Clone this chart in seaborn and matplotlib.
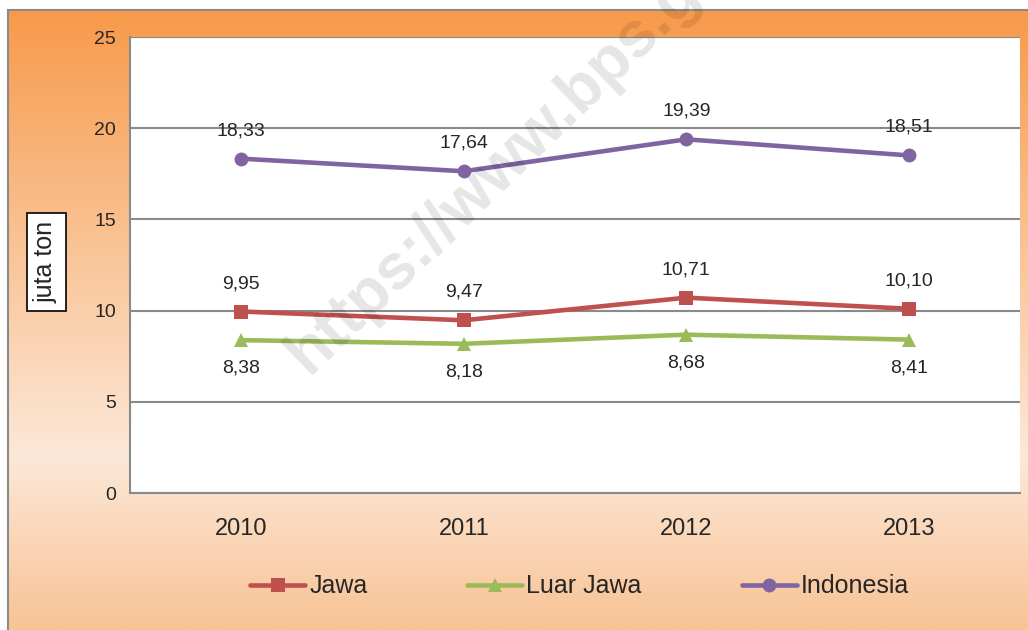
import numpy as np
import pandas as pd
import matplotlib.pyplot as plt
import seaborn as sns
from matplotlib.colors import LinearSegmentedColormap
from matplotlib.patches import Rectangle

# DATA
tahun = ['2010', '2011', '2012', '2013']
jawa = [9.95, 9.47, 10.71, 10.10]
luar_jawa = [8.38, 8.18, 8.68, 8.41]
indonesia = [18.33, 17.64, 19.39, 18.51]
y_ticks = [0, 5, 10, 15, 20, 25]

dados = pd.DataFrame({
    'pos': list(range(len(tahun))) * 3,
    'nilai': jawa + luar_jawa + indonesia,
    'seri': ['Jawa'] * 4 + ['Luar Jawa'] * 4 + ['Indonesia'] * 4,
})

sns.set_style('white')
plt.rcParams['font.family'] = ['Liberation Sans', 'DejaVu Sans']

fig = plt.figure(figsize=(10.28, 6.30), dpi=100)

# FUNDO EM GRADIENTE
bg = fig.add_axes([0, 0, 1, 1], zorder=-2)
cmap = LinearSegmentedColormap.from_list('bg', [(0, '#F79A4B'), (0.72, '#FCE8D8'), (1, '#F8C395')])
grad = np.linspace(0, 1, 256).reshape(-1, 1)
bg.imshow(grad, aspect='auto', cmap=cmap, extent=[8 / 1028, 1, 0, 1 - 10 / 630])
bg.add_patch(Rectangle((8 / 1028, -0.01), 1.2, 1 - 10 / 630 + 0.01, fill=False, edgecolor='#8A8A8A', lw=1.5))
bg.set_xlim(0, 1)
bg.set_ylim(0, 1)
bg.axis('off')

ax = fig.add_axes([130 / 1028, 137 / 630, 890 / 1028, 456 / 630])
ax.set_facecolor('white')

cores = {'Jawa': '#C0504D', 'Luar Jawa': '#9BBB59', 'Indonesia': '#8064A2'}
marcadores = {'Jawa': 's', 'Luar Jawa': '^', 'Indonesia': 'o'}
for seri in ['Jawa', 'Luar Jawa', 'Indonesia']:
    sub = dados[dados['seri'] == seri]
    sns.lineplot(x='pos', y='nilai', data=sub, ax=ax, color=cores[seri], marker=marcadores[seri],
                 markersize=10, markeredgewidth=0, linewidth=3.3, label=seri, zorder=3)

# RÓTULOS DOS DADOS
for i in range(len(tahun)):
    ax.annotate(f'{indonesia[i]:.2f}'.replace('.', ','), (i, indonesia[i]), xytext=(0, 14),
                textcoords='offset points', ha='center', va='bottom', fontsize=14)
    ax.annotate(f'{jawa[i]:.2f}'.replace('.', ','), (i, jawa[i]), xytext=(0, 14),
                textcoords='offset points', ha='center', va='bottom', fontsize=14)
    ax.annotate(f'{luar_jawa[i]:.2f}'.replace('.', ','), (i, luar_jawa[i]), xytext=(0, -14),
                textcoords='offset points', ha='center', va='top', fontsize=14)

ax.set_xlim(-0.5, len(tahun) - 0.5)
ax.set_ylim(0, 25)
ax.set_yticks(y_ticks)
ax.set_xticks(range(len(tahun)))
ax.set_xticklabels(tahun, fontsize=17)
ax.set_xticks(np.arange(-0.5, len(tahun)), minor=True)
ax.tick_params(axis='x', which='major', length=0, pad=18)
ax.tick_params(axis='x', which='minor', length=7, color='#8A8A8A', direction='out', width=1.5)
ax.tick_params(axis='y', length=6, color='#8A8A8A', direction='out', width=1.5, labelsize=14, pad=4)
ax.yaxis.grid(True, color='#8A8A8A', linewidth=1.5)
ax.xaxis.grid(False)
for lado in ['top', 'right']:
    ax.spines[lado].set_visible(False)
for lado in ['left', 'bottom']:
    ax.spines[lado].set_color('#8A8A8A')
    ax.spines[lado].set_linewidth(1.5)
ax.set_axisbelow(True)

ax.set_xlabel('')
ax.set_ylabel('')
fig.text(46 / 1028, 1 - 262 / 630, 'juta ton', rotation=90, fontsize=18, ha='center', va='center',
         bbox=dict(boxstyle='square,pad=0.3', facecolor='white', edgecolor='black', linewidth=1.2))

ax.legend(loc='center', bbox_to_anchor=(0.505, -0.205), ncol=3, frameon=False, fontsize=18,
          handlelength=2.2, columnspacing=4.0, handletextpad=0.15)

# MARCA D'ÁGUA
fig.text(534 / 1028, 1 - 134 / 630, 'https://www.bps.go.id', rotation=44, fontsize=46, fontweight='bold',
         color='#000000', alpha=0.1, ha='center', va='center', zorder=5)

plt.savefig('out.png', dpi=100)
